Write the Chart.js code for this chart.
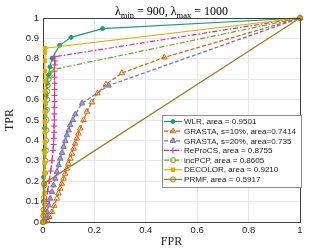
<!DOCTYPE html>
<html><head><meta charset="utf-8">
<script src="https://cdn.jsdelivr.net/npm/chart.js@4.4.0/dist/chart.umd.min.js"></script>
<style>html,body{margin:0;padding:0;background:#fff;}#wrap{width:332px;height:249px;}</style>
</head><body><div id="wrap"><canvas id="c" width="332" height="249"></canvas></div>
<script>
// ---- data ----
const xTickValues = [0, 0.2, 0.4, 0.6, 0.8, 1];
const xTickLabels = ['0', '0.2', '0.4', '0.6', '0.8', '1'];
const yTickValues = [0, 0.1, 0.2, 0.3, 0.4, 0.5, 0.6, 0.7, 0.8, 0.9, 1];
const yTickLabels = ['0', '0.1', '0.2', '0.3', '0.4', '0.5', '0.6', '0.7', '0.8', '0.9', '1'];
const seriesNames = ['WLR, area = 0.9501', 'GRASTA, s=10%, area=0.7414', 'GRASTA, s=20%, area=0.735',
  'ReProCS, area = 0.8755', 'incPCP, area = 0.8605', 'DECOLOR, area = 0.9210', 'PRMF, area = 0.5917'];

const fprWLR = [0, 0.001, 0.002, 0.004, 0.006, 0.009, 0.012, 0.016, 0.021, 0.027, 0.035, 0.065, 0.109, 0.232, 1];
const tprWLR = [0, 0.10, 0.22, 0.35, 0.46, 0.55, 0.62, 0.68, 0.72, 0.76, 0.803, 0.866, 0.905, 0.948, 1];

const fprGRASTA10 = [0, 0.008, 0.016, 0.025, 0.035, 0.044, 0.054, 0.060, 0.067, 0.073, 0.080, 0.086, 0.093, 0.099, 0.106, 0.112, 0.119, 0.125, 0.132, 0.138, 0.145, 0.158, 0.171, 0.190, 0.212, 0.245, 0.307, 0.472, 1];
const tprGRASTA10 = [0, 0.002, 0.008, 0.025, 0.049, 0.080, 0.115, 0.140, 0.164, 0.188, 0.213, 0.237, 0.262, 0.286, 0.311, 0.335, 0.360, 0.385, 0.410, 0.434, 0.459, 0.500, 0.541, 0.587, 0.631, 0.675, 0.730, 0.807, 1];

const fprGRASTA20 = [0, 0.004, 0.008, 0.012, 0.016, 0.022, 0.028, 0.035, 0.041, 0.048, 0.054, 0.061, 0.067, 0.074, 0.080, 0.087, 0.093, 0.100, 0.106, 0.116, 0.126, 0.152, 0.255, 1];
const tprGRASTA20 = [0, 0.008, 0.020, 0.034, 0.049, 0.082, 0.115, 0.148, 0.180, 0.213, 0.246, 0.279, 0.311, 0.340, 0.369, 0.398, 0.426, 0.450, 0.475, 0.500, 0.528, 0.582, 0.669, 1];

const fprReProCS = [0, 0.006, 0.012, 0.018, 0.024, 0.030, 0.035, 0.039, 0.041, 0.042, 0.043, 0.043, 0.044, 0.044, 0.044, 0.045, 0.045, 0.045, 0.045, 0.045, 0.045, 0.046, 0.046, 0.046, 1];
const tprReProCS = [0, 0.05, 0.10, 0.15, 0.20, 0.25, 0.30, 0.35, 0.38, 0.41, 0.44, 0.47, 0.50, 0.53, 0.56, 0.59, 0.62, 0.65, 0.68, 0.71, 0.74, 0.77, 0.79, 0.81, 1];

const fprIncPCP = [0, 0.002, 0.004, 0.006, 0.008, 0.010, 0.011, 0.012, 0.013, 0.014, 0.015, 0.016, 0.017, 0.019, 0.022, 0.026, 0.035, 1];
const tprIncPCP = [0, 0.06, 0.12, 0.18, 0.24, 0.30, 0.35, 0.40, 0.45, 0.50, 0.55, 0.60, 0.64, 0.67, 0.70, 0.72, 0.746, 1];

const fprDECOLOR = [0, 0.003, 0.004, 0.005, 0.005, 0.006, 0.006, 0.006, 0.007, 0.007, 0.007, 0.007, 0.008, 0.008, 0.008, 0.008, 0.008, 0.008, 0.008, 1];
const tprDECOLOR = [0, 0.04, 0.09, 0.14, 0.19, 0.24, 0.29, 0.34, 0.39, 0.44, 0.49, 0.54, 0.59, 0.64, 0.69, 0.74, 0.79, 0.83, 0.852, 1];

const fprPRMF = [0, 0.001, 0.004, 1];
const tprPRMF = [0, 0.03, 0.189, 1];

// ---- build ----
const pts = (xs, ys) => xs.map((x, i) => ({ x: x, y: ys[i] }));
const DASH = [4, 2];
const DASHDOT = [5, 2, 1.5, 2];
const styles = [
  { color: '#1b9e77', dash: [], ps: 'circle', r: 2, bg: '#1b9e77' },
  { color: '#d95f02', dash: DASH, ps: 'triangle', r: 3.2, bg: 'rgba(255,255,255,0)' },
  { color: '#7570b3', dash: DASH, ps: 'triangle', r: 3.2, bg: '#9f9bcf' },
  { color: '#e7298a', dash: DASHDOT, ps: 'cross', r: 3, bg: '#e7298a' },
  { color: '#66a61e', dash: DASHDOT, ps: 'circle', r: 2.5, bg: 'rgba(255,255,255,0)' },
  { color: '#e6ab02', dash: [], ps: 'rect', r: 2.5, bg: '#e6ab02' },
  { color: '#a6761d', dash: [], ps: 'circle', r: 2.5, bg: 'rgba(255,255,255,0)' }
];
const seriesData = [
  pts(fprWLR, tprWLR), pts(fprGRASTA10, tprGRASTA10), pts(fprGRASTA20, tprGRASTA20),
  pts(fprReProCS, tprReProCS), pts(fprIncPCP, tprIncPCP), pts(fprDECOLOR, tprDECOLOR), pts(fprPRMF, tprPRMF)
];
const datasets = seriesData.map((d, i) => ({
  label: seriesNames[i], data: d, order: 6 - i,
  borderColor: styles[i].color, borderWidth: 1.2, borderDash: styles[i].dash,
  pointStyle: styles[i].ps, pointRadius: styles[i].r, pointBorderWidth: 1,
  pointBorderColor: styles[i].color, pointBackgroundColor: styles[i].bg,
  backgroundColor: styles[i].bg, fill: false, tension: 0, clip: 6
}));

function drawMarker(ctx, st, x, y) {
  ctx.save();
  ctx.setLineDash([]);
  ctx.lineWidth = 1; ctx.strokeStyle = st.color; ctx.fillStyle = st.bg;
  const r = st.r;
  ctx.beginPath();
  if (st.ps === 'circle') { ctx.arc(x, y, r, 0, Math.PI * 2); ctx.fill(); ctx.stroke(); }
  else if (st.ps === 'rect') { const s = r * Math.SQRT1_2 * 2; ctx.rect(x - s / 2, y - s / 2, s, s); ctx.fill(); ctx.stroke(); }
  else if (st.ps === 'triangle') {
    ctx.moveTo(x, y - r); ctx.lineTo(x + r * 0.866, y + r * 0.5); ctx.lineTo(x - r * 0.866, y + r * 0.5); ctx.closePath(); ctx.fill(); ctx.stroke();
  } else if (st.ps === 'cross') { ctx.moveTo(x - r, y); ctx.lineTo(x + r, y); ctx.moveTo(x, y - r); ctx.lineTo(x, y + r); ctx.stroke(); }
  ctx.restore();
}

const extras = {
  id: 'extras',
  afterDatasetsDraw(chart) {
    const ctx = chart.ctx, a = chart.chartArea;
    ctx.save();
    // box top/right
    ctx.strokeStyle = '#404040'; ctx.lineWidth = 1;
    ctx.beginPath();
    ctx.moveTo(a.left, a.top + 0.5); ctx.lineTo(a.right + 0.5, a.top + 0.5); ctx.lineTo(a.right + 0.5, a.bottom);
    ctx.stroke();
    // legend
    const bx = 162, by = 115, bw = 139, bh = 72;
    ctx.fillStyle = '#ffffff'; ctx.fillRect(bx, by, bw, bh);
    ctx.strokeStyle = '#8c8c8c'; ctx.lineWidth = 1; ctx.strokeRect(bx + 0.5, by + 0.5, bw, bh);
    ctx.font = '9px "Liberation Sans", Arial, sans-serif';
    const wRef = ctx.measureText(seriesNames[1]).width;
    const fs = Math.min(9, 9 * 112 / wRef);
    ctx.font = fs.toFixed(2) + 'px "Liberation Sans", Arial, sans-serif';
    ctx.textBaseline = 'middle'; ctx.textAlign = 'left';
    seriesNames.forEach((name, i) => {
      const y = 121.5 + i * 9.65;
      const st = styles[i];
      ctx.strokeStyle = st.color; ctx.lineWidth = 1.2; ctx.setLineDash(st.dash);
      ctx.beginPath(); ctx.moveTo(164, y); ctx.lineTo(182, y); ctx.stroke();
      ctx.setLineDash([]);
      drawMarker(ctx, st, 173, y);
      ctx.fillStyle = '#1a1a1a';
      ctx.fillText(name, 184, y + 0.5);
    });
    // title with subscripts
    const big = '12px "Liberation Serif", "DejaVu Serif", serif';
    const small = '8.5px "Liberation Serif", "DejaVu Serif", serif';
    const parts = [['λ', big, 0], ['min', small, 3], [' = 900, λ', big, 0], ['max', small, 3], [' = 1000', big, 0]];
    let w = 0;
    parts.forEach(p => { ctx.font = p[1]; w += ctx.measureText(p[0]).width; });
    let x = (a.left + a.right) / 2 - w / 2;
    ctx.fillStyle = '#000'; ctx.textBaseline = 'alphabetic';
    parts.forEach(p => { ctx.font = p[1]; ctx.fillText(p[0], x, 15 + p[2]); x += ctx.measureText(p[0]).width; });
    ctx.restore();
  }
};

const tickFont = { family: '"Liberation Sans", Arial, sans-serif', size: 9.5 };
const titleFont = { family: '"Liberation Serif", "DejaVu Serif", serif', size: 12 };
new Chart(document.getElementById('c'), {
  type: 'line',
  data: { datasets: datasets },
  options: {
    responsive: false, animation: false, devicePixelRatio: 1,
    layout: { padding: { left: 0, right: 32, top: 18, bottom: 0 } },
    plugins: { legend: { display: false }, title: { display: false }, tooltip: { enabled: false } },
    elements: { line: { borderCapStyle: 'butt' } },
    scales: {
      x: {
        type: 'linear', min: 0, max: 1,
        afterBuildTicks: s => { s.ticks = xTickValues.map(v => ({ value: v })); },
        afterFit: s => { s.height = 27; },
        ticks: { font: tickFont, color: '#262626', padding: 3, maxRotation: 0,
          callback: v => { const i = xTickValues.findIndex(t => Math.abs(t - v) < 1e-9); return i >= 0 ? xTickLabels[i] : ''; } },
        grid: { color: '#e8e8e8', drawTicks: false },
        border: { display: true, color: '#404040', width: 1 },
        title: { display: true, text: 'FPR', font: titleFont, color: '#262626', padding: { top: 0, bottom: 0 } }
      },
      y: {
        type: 'linear', min: 0, max: 1,
        afterBuildTicks: s => { s.ticks = yTickValues.map(v => ({ value: v })); },
        afterFit: s => { s.width = 43; },
        ticks: { font: tickFont, color: '#262626', padding: 4,
          callback: v => { const i = yTickValues.findIndex(t => Math.abs(t - v) < 1e-9); return i >= 0 ? yTickLabels[i] : ''; } },
        grid: { color: '#e8e8e8', drawTicks: false },
        border: { display: true, color: '#404040', width: 1 },
        title: { display: true, text: 'TPR', font: titleFont, color: '#262626', padding: { top: 3, bottom: 0 } }
      }
    }
  },
  plugins: [extras]
});
</script>
</body></html>
